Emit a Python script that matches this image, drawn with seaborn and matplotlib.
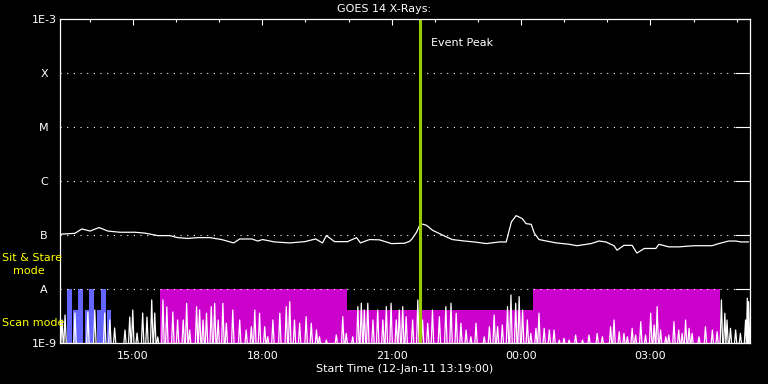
import matplotlib
matplotlib.use("Agg")
import matplotlib.pyplot as plt
import matplotlib.dates as mdates
from matplotlib.ticker import NullLocator
import numpy as np
import pandas as pd
import seaborn as sns

START = pd.Timestamp("2011-01-12 13:19:00")
SPAN_HOURS = 16
EVENT_PEAK_HOURS = 8.33

# GOES 14 1-8 A channel: hours since start, flux in units of 1e-7 W/m^2
goes_hours = [0.00, 0.34, 0.50, 0.69, 0.90, 1.10, 1.38, 1.73, 1.96, 2.26,
              2.54, 2.72, 2.96, 3.19, 3.47, 3.74, 4.02, 4.16, 4.44, 4.58,
              4.69, 4.97, 5.32, 5.67, 5.92, 6.08, 6.17, 6.36, 6.66, 6.87,
              6.96, 7.17, 7.40, 7.68, 7.98, 8.10, 8.16, 8.26, 8.35, 8.49,
              8.63, 8.79, 8.95, 9.09, 9.37, 9.60, 9.88, 10.18, 10.34, 10.39,
              10.46, 10.57, 10.71, 10.80, 10.92, 10.99, 11.10, 11.27, 11.50, 11.80,
              11.98, 12.31, 12.49, 12.65, 12.84, 12.91, 13.07, 13.26, 13.37, 13.54,
              13.81, 13.88, 14.11, 14.35, 14.69, 15.11, 15.27, 15.50, 15.66, 15.78,
              15.96]
goes_flux_e7 = [1.03, 1.07, 1.29, 1.18, 1.37, 1.18, 1.12, 1.12, 1.08, 0.97,
                0.97, 0.89, 0.86, 0.89, 0.89, 0.82, 0.71, 0.84, 0.84, 0.77,
                0.82, 0.74, 0.71, 0.75, 0.84, 0.71, 0.97, 0.75, 0.75, 0.89,
                0.71, 0.82, 0.81, 0.69, 0.70, 0.76, 0.85, 1.12, 1.62, 1.51,
                1.22, 1.06, 0.92, 0.82, 0.77, 0.74, 0.69, 0.74, 0.74, 1.06,
                1.74, 2.28, 2.01, 1.62, 1.57, 1.08, 0.82, 0.77, 0.71, 0.67,
                0.63, 0.69, 0.77, 0.74, 0.63, 0.52, 0.64, 0.64, 0.46, 0.56,
                0.56, 0.67, 0.60, 0.60, 0.63, 0.63, 0.69, 0.77, 0.77, 0.74,
                0.74]

# 0.5-4 A channel (noisy): spike peak times (hours since start) and peak flux (1e-9 W/m^2)
short_hours = [0.04, 0.11, 0.34, 0.64, 0.80, 1.03, 1.15, 1.26, 1.50, 1.61,
               1.68, 1.78, 1.91, 2.01, 2.12, 2.19, 2.26, 2.38, 2.47, 2.61,
               2.72, 2.85, 2.93, 3.00, 3.16, 3.23, 3.31, 3.39, 3.50, 3.58,
               3.66, 3.77, 3.85, 4.00, 4.16, 4.31, 4.43, 4.51, 4.62, 4.74,
               4.81, 4.93, 5.09, 5.24, 5.32, 5.43, 5.55, 5.70, 5.82, 5.94,
               6.01, 6.17, 6.40, 6.55, 6.63, 6.78, 6.90, 6.98, 7.05, 7.13,
               7.25, 7.36, 7.48, 7.56, 7.67, 7.79, 7.86, 7.94, 8.02, 8.17,
               8.29, 8.40, 8.52, 8.63, 8.79, 8.94, 9.06, 9.18, 9.29, 9.41,
               9.52, 9.64, 9.83, 9.95, 10.06, 10.14, 10.25, 10.37, 10.45, 10.56,
               10.64, 10.72, 10.83, 10.91, 11.03, 11.10, 11.22, 11.34, 11.45, 11.57,
               11.68, 11.80, 11.95, 12.11, 12.26, 12.45, 12.57, 12.76, 12.84, 12.96,
               13.07, 13.15, 13.26, 13.34, 13.46, 13.57, 13.69, 13.77, 13.84, 13.92,
               14.04, 14.11, 14.23, 14.34, 14.42, 14.50, 14.58, 14.65, 14.81, 14.96,
               15.12, 15.23, 15.33, 15.41, 15.46, 15.54, 15.66, 15.77, 15.89, 15.93,
               15.96]
short_peak_e9 = [2.64, 3.27, 3.56, 3.72, 4.05, 3.56, 2.64, 1.88, 1.72, 3.00,
                 4.05, 1.51, 3.56, 3.00, 6.22, 3.56, 1.28, 6.22, 4.61, 3.72,
                 2.64, 2.64, 5.40, 1.72, 4.67, 4.05, 2.64, 3.52, 4.67, 5.40,
                 2.64, 5.40, 2.30, 4.05, 2.64, 1.72, 1.99, 4.05, 3.52, 1.99,
                 1.29, 2.64, 3.52, 4.67, 5.78, 2.64, 2.30, 3.04, 2.30, 1.72,
                 1.29, 1.12, 1.39, 3.04, 1.49, 1.29, 4.67, 5.40, 4.05, 5.40,
                 2.64, 4.05, 2.64, 4.67, 5.40, 2.64, 4.05, 4.67, 3.04, 2.64,
                 6.22, 2.64, 2.30, 4.05, 3.04, 4.67, 5.40, 3.52, 2.30, 1.72,
                 1.29, 2.30, 1.29, 1.99, 3.27, 1.99, 2.13, 4.67, 7.70, 5.40,
                 7.16, 4.05, 2.64, 1.49, 1.85, 3.52, 1.85, 1.72, 1.72, 1.12,
                 1.21, 1.12, 1.39, 1.12, 1.39, 1.49, 1.29, 1.99, 2.64, 1.60,
                 1.49, 1.29, 1.85, 1.39, 2.46, 1.39, 3.52, 2.13, 4.67, 1.72,
                 1.29, 1.39, 2.46, 1.72, 1.49, 2.64, 1.85, 1.49, 1.29, 1.99,
                 1.72, 1.60, 6.22, 3.52, 2.64, 1.85, 1.72, 1.49, 2.64, 6.69,
                 5.78]
short_floor_e9 = 0.9
spike_half_width_h = 0.03

# observing mode blocks (hours since start, top of block in W/m^2)
stare_start = [0.155, 0.301, 0.410, 0.572, 0.664, 0.841, 0.942, 1.077]
stare_end = [0.263, 0.417, 0.518, 0.671, 0.780, 0.940, 1.050, 1.180]
stare_top = [1e-8, 4e-9, 1e-8, 4e-9, 1e-8, 4e-9, 1e-8, 4e-9]

scan_start = [2.31, 6.65, 10.97]
scan_end = [6.65, 10.97, 15.29]
scan_top = [1e-8, 4.1e-9, 1e-8]

class_levels = [1e-9, 1e-8, 1e-7, 1e-6, 1e-5, 1e-4, 1e-3]
class_labels = ["1E-9", "A", "B", "C", "M", "X", "1E-3"]


def to_time(hours):
    return START + pd.to_timedelta(np.asarray(hours, dtype=float), unit="h")


def spike_series(peaks_h, peaks_f, floor, half_w):
    # each spike rises from the floor to its peak and back
    ts, fs = [], []
    prev = -np.inf
    for i, (h, v) in enumerate(zip(peaks_h, peaks_f)):
        nxt = peaks_h[i + 1] if i + 1 < len(peaks_h) else np.inf
        left = max(h - half_w, (prev + h) / 2)
        right = min(h + half_w, (h + nxt) / 2)
        ts += [left, h, right]
        fs += [floor, v, floor]
        prev = h
    return np.array(ts), np.array(fs)


def main():
    sns.set_style("dark")
    plt.rcParams.update({
        "font.family": ["DejaVu Sans"],
        "figure.facecolor": "black",
        "axes.facecolor": "black",
        "text.color": "white",
    })

    fig = plt.figure(figsize=(7.68, 3.84), dpi=100)
    ax = fig.add_axes([60.3 / 768, 41.3 / 384, 690 / 768, 323.4 / 384])
    ax.set_facecolor("black")

    # mode blocks
    for s, e, top in zip(stare_start, stare_end, stare_top):
        ax.fill_between(to_time([s, e]), 1e-9, top, color="#6464ff", lw=0, zorder=1)
    for s, e, top in zip(scan_start, scan_end, scan_top):
        ax.fill_between(to_time([s, e]), 1e-9, top, color="#cc00cc", lw=0, zorder=1)

    # dotted class levels
    for lvl in class_levels[1:-1]:
        ax.axhline(lvl, color="white", lw=0.8, ls=(0, (1, 5)), zorder=2)

    # short channel spikes
    t, f = spike_series(short_hours, short_peak_e9, short_floor_e9, spike_half_width_h)
    short_df = pd.DataFrame({"time": to_time(t), "flux": f * 1e-9})
    sns.lineplot(data=short_df, x="time", y="flux", ax=ax, color="white",
                 lw=0.9, estimator=None, sort=False, zorder=3)

    long_df = pd.DataFrame({"time": to_time(goes_hours),
                            "flux": np.asarray(goes_flux_e7) * 1e-7})
    sns.lineplot(data=long_df, x="time", y="flux", ax=ax, color="white",
                 lw=0.9, estimator=None, sort=False, zorder=3)

    peak_time = to_time([EVENT_PEAK_HOURS])[0]
    ax.axvline(peak_time, color="#99cc00", lw=2.2, zorder=4)
    ax.annotate("Event Peak", xy=(peak_time, 1), xycoords=("data", "axes fraction"),
                xytext=(11, -24), textcoords="offset pixels", ha="left", va="center",
                color="white", fontsize=8)

    ax.set_yscale("log")
    ax.set_ylim(1e-9, 1e-3)
    ax.set_yticks(class_levels, class_labels)
    ax.yaxis.set_minor_locator(NullLocator())
    ax.set_xlim(START, START + pd.Timedelta(hours=SPAN_HOURS))
    ax.xaxis.set_major_locator(mdates.HourLocator(byhour=range(0, 24, 3)))
    ax.xaxis.set_major_formatter(mdates.DateFormatter("%H:%M"))
    ax.xaxis.set_minor_locator(mdates.HourLocator())
    ax.set_xlabel("")
    ax.set_ylabel("")
    ax.grid(False)

    for sp in ax.spines.values():
        sp.set_visible(True)
        sp.set_color("white")
        sp.set_linewidth(0.9)
        sp.set_zorder(5)

    ax.tick_params(axis="both", which="both", direction="in", colors="white",
                   labelcolor="white", labelsize=8, top=True, right=True, width=0.8)
    ax.tick_params(axis="y", which="major", length=10.5, pad=11.7)
    ax.tick_params(axis="x", which="major", length=4.5, pad=6)
    ax.tick_params(axis="x", which="minor", length=2.2)
    for lab in ax.get_yticklabels():
        lab.set_horizontalalignment("center")

    fig.text(0.5, 1 - 9 / 384, "GOES 14 X-Rays:", ha="center", va="center",
             color="white", fontsize=8)
    fig.text(405 / 768, 1 - 369 / 384, "Start Time (12-Jan-11 13:19:00)",
             ha="center", va="center", color="white", fontsize=8)
    fig.text(2 / 768, 1 - 258 / 384, "Sit & Stare", ha="left", va="center",
             color="#ffff00", fontsize=8)
    fig.text(13 / 768, 1 - 271 / 384, "mode", ha="left", va="center",
             color="#ffff00", fontsize=8)
    fig.text(2 / 768, 1 - 323 / 384, "Scan mode", ha="left", va="center",
             color="#ffff00", fontsize=8)

    fig.savefig("out.png", dpi=100, facecolor="black")
    plt.close(fig)


if __name__ == "__main__":
    main()
